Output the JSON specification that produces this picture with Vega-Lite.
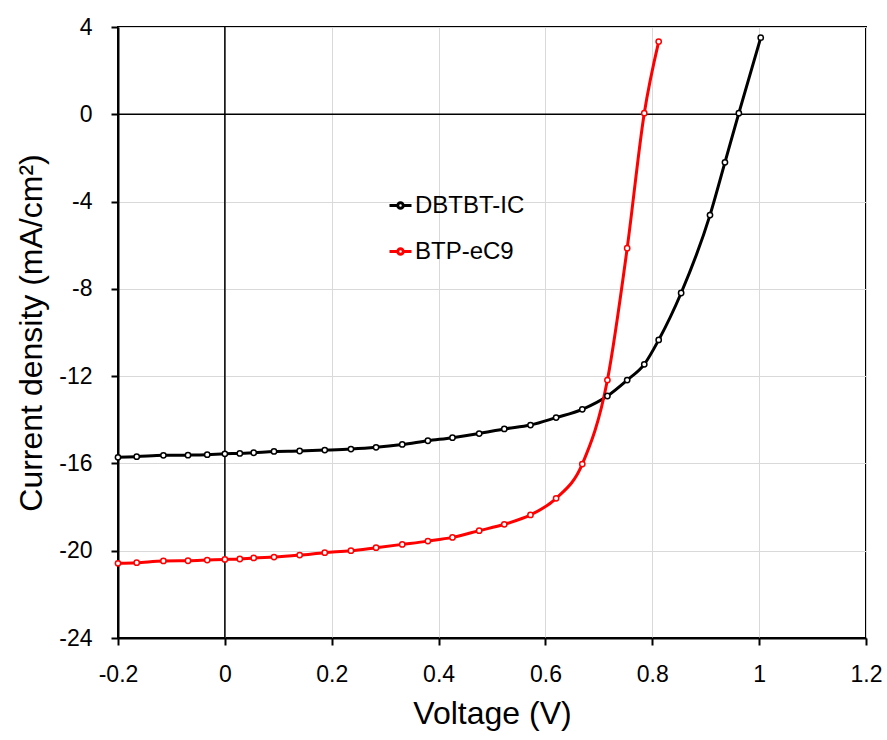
{
  "$schema": "https://vega.github.io/schema/vega-lite/v6.json",
  "autosize": {"type": "none"},
  "width": 748,
  "height": 611,
  "padding": {"left": 118, "top": 27, "right": 21, "bottom": 102},
  "background": "white",
  "config": {
    "font": "Liberation Sans",
    "view": {"stroke": "black", "strokeWidth": 2},
    "axis": {
      "domainColor": "black", "domainWidth": 2,
      "tickColor": "black", "tickWidth": 2, "tickSize": 7,
      "gridColor": "#d9d9d9", "gridWidth": 1,
      "labelFont": "Liberation Sans", "labelFontSize": 23, "labelColor": "black",
      "titleFont": "Liberation Sans", "titleFontSize": 32, "titleFontWeight": "normal", "titleColor": "black",
      "labelExpr": "'' + datum.value"
    }
  },
  "data": {"values": [
    {"V": -0.2, "J": -15.72, "s": "DBTBT-IC"},
    {"V": -0.165, "J": -15.69, "s": "DBTBT-IC"},
    {"V": -0.115, "J": -15.63, "s": "DBTBT-IC"},
    {"V": -0.069, "J": -15.62, "s": "DBTBT-IC"},
    {"V": -0.033, "J": -15.6, "s": "DBTBT-IC"},
    {"V": 0.0, "J": -15.56, "s": "DBTBT-IC"},
    {"V": 0.028, "J": -15.54, "s": "DBTBT-IC"},
    {"V": 0.054, "J": -15.51, "s": "DBTBT-IC"},
    {"V": 0.092, "J": -15.45, "s": "DBTBT-IC"},
    {"V": 0.14, "J": -15.43, "s": "DBTBT-IC"},
    {"V": 0.187, "J": -15.39, "s": "DBTBT-IC"},
    {"V": 0.236, "J": -15.34, "s": "DBTBT-IC"},
    {"V": 0.283, "J": -15.26, "s": "DBTBT-IC"},
    {"V": 0.332, "J": -15.13, "s": "DBTBT-IC"},
    {"V": 0.38, "J": -14.96, "s": "DBTBT-IC"},
    {"V": 0.426, "J": -14.82, "s": "DBTBT-IC"},
    {"V": 0.476, "J": -14.63, "s": "DBTBT-IC"},
    {"V": 0.523, "J": -14.42, "s": "DBTBT-IC"},
    {"V": 0.572, "J": -14.24, "s": "DBTBT-IC"},
    {"V": 0.62, "J": -13.9, "s": "DBTBT-IC"},
    {"V": 0.669, "J": -13.52, "s": "DBTBT-IC"},
    {"V": 0.716, "J": -12.91, "s": "DBTBT-IC"},
    {"V": 0.753, "J": -12.18, "s": "DBTBT-IC"},
    {"V": 0.785, "J": -11.46, "s": "DBTBT-IC"},
    {"V": 0.812, "J": -10.34, "s": "DBTBT-IC"},
    {"V": 0.854, "J": -8.19, "s": "DBTBT-IC"},
    {"V": 0.908, "J": -4.62, "s": "DBTBT-IC"},
    {"V": 0.936, "J": -2.2, "s": "DBTBT-IC"},
    {"V": 0.962, "J": 0.05, "s": "DBTBT-IC"},
    {"V": 1.003, "J": 3.51, "s": "DBTBT-IC"},
    {"V": -0.2, "J": -20.58, "s": "BTP-eC9"},
    {"V": -0.165, "J": -20.55, "s": "BTP-eC9"},
    {"V": -0.115, "J": -20.47, "s": "BTP-eC9"},
    {"V": -0.069, "J": -20.46, "s": "BTP-eC9"},
    {"V": -0.033, "J": -20.43, "s": "BTP-eC9"},
    {"V": 0.0, "J": -20.4, "s": "BTP-eC9"},
    {"V": 0.028, "J": -20.38, "s": "BTP-eC9"},
    {"V": 0.054, "J": -20.33, "s": "BTP-eC9"},
    {"V": 0.092, "J": -20.29, "s": "BTP-eC9"},
    {"V": 0.14, "J": -20.2, "s": "BTP-eC9"},
    {"V": 0.187, "J": -20.09, "s": "BTP-eC9"},
    {"V": 0.236, "J": -20.0, "s": "BTP-eC9"},
    {"V": 0.283, "J": -19.86, "s": "BTP-eC9"},
    {"V": 0.332, "J": -19.71, "s": "BTP-eC9"},
    {"V": 0.38, "J": -19.56, "s": "BTP-eC9"},
    {"V": 0.426, "J": -19.39, "s": "BTP-eC9"},
    {"V": 0.476, "J": -19.08, "s": "BTP-eC9"},
    {"V": 0.523, "J": -18.79, "s": "BTP-eC9"},
    {"V": 0.572, "J": -18.36, "s": "BTP-eC9"},
    {"V": 0.62, "J": -17.6, "s": "BTP-eC9"},
    {"V": 0.669, "J": -16.03, "s": "BTP-eC9"},
    {"V": 0.716, "J": -12.18, "s": "BTP-eC9"},
    {"V": 0.753, "J": -6.14, "s": "BTP-eC9"},
    {"V": 0.785, "J": 0.05, "s": "BTP-eC9"},
    {"V": 0.812, "J": 3.33, "s": "BTP-eC9"}
  ]},
  "layer": [
    {
      "data": {"values": [{"z": 0}]},
      "mark": {"type": "rule", "color": "black", "strokeWidth": 1.5},
      "encoding": {"y": {"field": "z", "type": "quantitative"}}
    },
    {
      "data": {"values": [{"z": 0}]},
      "mark": {"type": "rule", "color": "black", "strokeWidth": 1.5},
      "encoding": {"x": {"field": "z", "type": "quantitative"}}
    },
    {
      "mark": {"type": "line", "strokeWidth": 3, "interpolate": "monotone"},
      "encoding": {
        "x": {"field": "V", "type": "quantitative",
              "scale": {"domain": [-0.2, 1.2], "nice": false, "zero": false},
              "axis": {"values": [-0.2, 0, 0.2, 0.4, 0.6, 0.8, 1, 1.2], "title": "Voltage (V)", "labelPadding": 18, "titlePadding": 12, "labelFlush": false}},
        "y": {"field": "J", "type": "quantitative",
              "scale": {"domain": [-24, 4], "nice": false, "zero": false},
              "axis": {"values": [-24, -20, -16, -12, -8, -4, 0, 4], "title": "Current density (mA/cm²)", "labelPadding": 19, "titlePadding": 10, "labelFlush": false}},
        "color": {"field": "s", "type": "nominal",
                  "scale": {"domain": ["DBTBT-IC", "BTP-eC9"], "range": ["black", "#ff0000"]},
                  "legend": {"orient": "none", "legendX": 270, "legendY": 166, "title": null,
                             "symbolType": "M-1,0L-0.25,0M0.25,0L1,0M-0.25,0A0.25,0.25 0 1,0 0.25,0A0.25,0.25 0 1,0 -0.25,0",
                             "symbolSize": 484, "symbolStrokeWidth": 3, "symbolFillColor": "white",
                             "labelFontSize": 24, "labelFont": "Liberation Sans", "labelColor": "black",
                             "labelOffset": 2, "rowPadding": 21}},
        "order": {"field": "V", "type": "quantitative"}
      }
    },
    {
      "mark": {"type": "point", "filled": true, "fill": "white", "size": 28, "strokeWidth": 1.5, "opacity": 1},
      "encoding": {
        "x": {"field": "V", "type": "quantitative"},
        "y": {"field": "J", "type": "quantitative"},
        "stroke": {"field": "s", "type": "nominal", "scale": {"domain": ["DBTBT-IC", "BTP-eC9"], "range": ["black", "#ff0000"]}, "legend": null}
      }
    }
  ]
}
